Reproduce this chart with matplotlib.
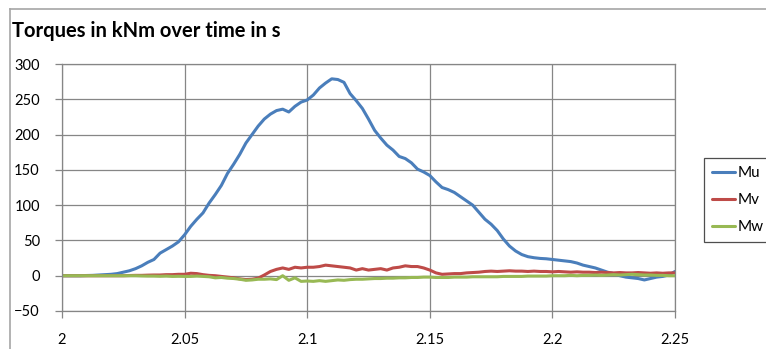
import numpy as np
import matplotlib
matplotlib.use("Agg")
import matplotlib.pyplot as plt
from matplotlib.lines import Line2D

plt.rcParams['font.family'] = ['Lato', 'DejaVu Sans']

# time axis in s, 0.0025 s steps
t = np.linspace(2.0, 2.25, 101)

# torque Mu in kNm
mu = [0, 0, 0, 0, 0.3, 0.5, 1, 1.5, 2, 3,
      5, 7, 10, 14, 19, 23, 32, 37, 42, 48,
      58, 70, 80, 89, 103, 115, 128, 145, 158, 172,
      188, 200, 212, 222, 229, 234, 236, 232, 240, 246,
      249, 256, 266, 273, 279, 278, 274, 258, 248, 237,
      222, 206, 195, 185, 178, 169, 166, 160, 151, 147,
      142, 133, 125, 122, 118, 112, 106, 100, 90, 80,
      73, 64, 52, 42, 35, 30, 27, 25.5, 24.5, 24,
      23, 22, 21, 20, 18, 15, 13, 11, 8, 5,
      3, 0, -2, -3, -4, -6, -4, -2, -1, 1,
      6]

# torque Mv in kNm
mv = [0, 0, 0, 0, 0, 0, 0, 0, 0, 0,
      0, 0.3, 0.5, 0.5, 0.8, 1, 1, 1.5, 1.5, 2,
      2, 3.5, 3, 1.5, 0.5, 0, -1, -2, -3, -4.5,
      -5.5, -5, -3.5, 1, 6, 9, 11, 9, 12, 11,
      12, 12, 13, 15, 14, 13, 12, 11, 8, 10,
      8, 9, 10, 8, 11, 12, 14, 13, 13, 11,
      8, 4, 2, 2.5, 3, 3, 4, 4.5, 5, 6,
      6.5, 6, 6.5, 7, 6.5, 6.5, 6, 6.5, 6, 6,
      5.5, 6, 5.5, 5, 5.5, 5, 5, 4.5, 5, 4.5,
      4, 4.5, 4, 4, 4.5, 4, 3.5, 4, 3.5, 4,
      4]

# torque Mw in kNm
mw = [0, 0, 0, 0, 0, 0, 0, 0, 0, 0,
      0, 0, 0, -0.3, -0.5, -0.5, -0.8, -0.5, -1, -0.8,
      -1, -1, -0.5, -1, -1.5, -3, -2.5, -3.5, -4, -5,
      -6.5, -6, -5, -5, -4.5, -5.5, 0, -6.5, -3, -8,
      -7.5, -8, -7, -8, -7, -6, -6.5, -5.5, -5, -5,
      -4.5, -4, -4, -3.5, -3.5, -3, -3, -2.5, -2.5, -2,
      -2, -2.5, -2.5, -2.5, -2, -2, -2, -1.5, -1.5, -1.5,
      -1.5, -1.5, -1, -1, -1, -1, -0.5, -0.5, -0.5, -0.5,
      0, 0, 0, 0.5, 0, 0.5, 0.5, 1, 0.5, 1,
      1.5, 1, 1.5, 2, 1.5, 1, 1, 0.5, 0.5, 0,
      0]

series = [("Mu", mu, "#4a7ebb"), ("Mv", mv, "#be4b48"), ("Mw", mw, "#98b954")]

W, H = 766, 349
fig = plt.figure(figsize=(W / 100, H / 100), dpi=100)
ax = fig.add_axes([62 / W, 1 - 311 / H, (675 - 62) / W, (311 - 64) / H])

grid_c = "#868686"
for name, vals, c in series:
    ax.plot(t, vals, color=c, lw=2.2, label=name, solid_capstyle="round")

ax.set_xlim(2.0, 2.25)
ax.set_ylim(-50, 300)
ax.set_xticks([2, 2.05, 2.1, 2.15, 2.2, 2.25])
ax.set_xticklabels(["2", "2.05", "2.1", "2.15", "2.2", "2.25"])
ax.set_yticks(np.arange(-50, 301, 50))
ax.grid(True, color=grid_c, lw=0.9)
ax.set_axisbelow(True)
for s in ax.spines.values():
    s.set_color(grid_c)
    s.set_linewidth(0.9)
ax.tick_params(axis="both", colors=grid_c, length=5, width=0.9,
               labelcolor="black", labelsize=10.5)
ax.tick_params(axis="y", pad=11)
ax.tick_params(axis="x", pad=11)

fig.text(12 / W, 1 - 31 / H, "Torques in kNm over time in s", fontsize=14.5,
         fontweight="bold", ha="left", va="center")

leg = ax.legend(loc="center left", bbox_to_anchor=(704 / W, 1 - 200 / H),
                bbox_transform=fig.transFigure, frameon=True, fancybox=False,
                fontsize=11, handlelength=1.55, handletextpad=0.12,
                labelspacing=0.85, borderpad=0.5, borderaxespad=0)
leg.get_frame().set_edgecolor("#222222")
leg.get_frame().set_linewidth(0.9)

# outer chart border
fig.add_artist(Line2D([10 / W, 1], [1 - 9 / H, 1 - 9 / H], color="#a6a6a6", lw=1.2))
fig.add_artist(Line2D([10 / W, 10 / W], [0, 1 - 9 / H], color="#a6a6a6", lw=1.2))

fig.savefig("out.png", dpi=100)
